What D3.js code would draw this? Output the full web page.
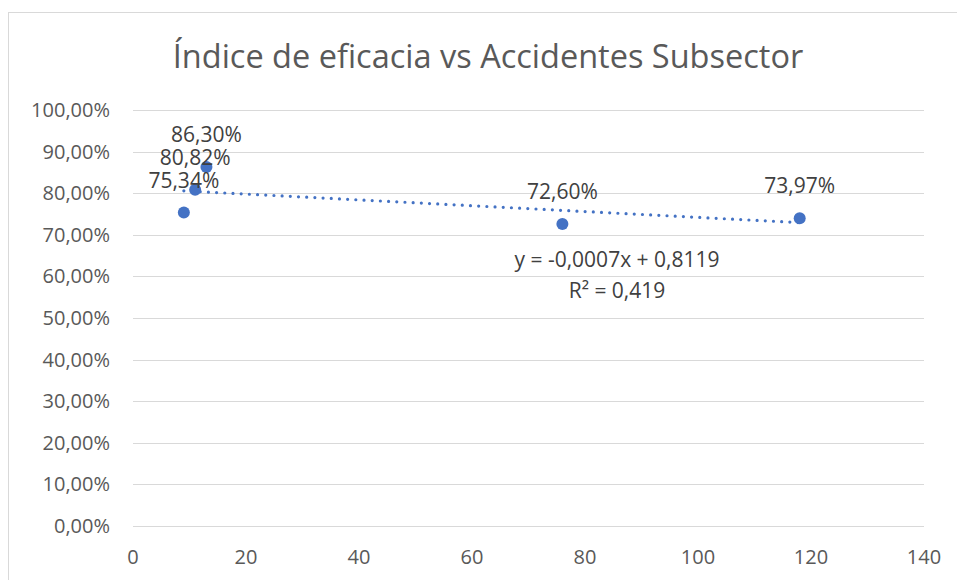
<!DOCTYPE html>
<meta charset="utf-8">
<head>
  <script src="https://d3js.org/d3.v7.min.js"></script>
</head>
<style>
body { margin: 0; background: #fff; }
text { font-family: "Open Sans", "Noto Sans", sans-serif; fill: #595959; }
.grid line { stroke: #d9d9d9; stroke-width: 1; }
.title { font-size: 32.5px; }
.tick-label { font-size: 20px; }
.data-label { font-size: 21px; fill: #404040; }
.trend-label { font-size: 21px; fill: #404040; }
</style>
<body>
<svg width="957" height="580" id="container"></svg>
<script>

// data
var accidents = [9, 11, 13, 76, 118];
var efficacy = [0.7534, 0.8082, 0.8630, 0.7260, 0.7397];
var valueLabels = ['75,34%', '80,82%', '86,30%', '72,60%', '73,97%'];
var yTicks = [0, 0.1, 0.2, 0.3, 0.4, 0.5, 0.6, 0.7, 0.8, 0.9, 1.0];
var xTicks = [0, 20, 40, 60, 80, 100, 120, 140];
var trendCoef = [-0.0007, 0.8119];   // slope, intercept as in the label
var trendText = ['y = -0,0007x + 0,8119', 'R² = 0,419'];

var svg = d3.select('#container');

var plot = {left: 133, right: 924, top: 110, bottom: 526};

var xScale = d3.scaleLinear().domain([0, 140]).range([plot.left, plot.right]),
    yScale = d3.scaleLinear().domain([0, 1]).range([plot.bottom, plot.top]);

var fmtPct = function(d) { return d3.format('.2f')(d * 100).replace('.', ',') + '%'; };

// chart frame
svg.append('rect')
   .attr('x', 8.5).attr('y', 12.5)
   .attr('width', 1000).attr('height', 1000)
   .attr('fill', 'none')
   .attr('stroke', '#d9d9d9');

svg.append('text')
   .attr('class', 'title')
   .attr('x', 488)
   .attr('y', 68)
   .attr('text-anchor', 'middle')
   .text('Índice de eficacia vs Accidentes Subsector');

// horizontal gridlines
svg.append('g')
   .attr('class', 'grid')
   .selectAll('line')
   .data(yTicks)
   .enter()
   .append('line')
   .attr('x1', plot.left)
   .attr('x2', plot.right)
   .attr('y1', function(d) { return Math.round(yScale(d)) + 0.5; })
   .attr('y2', function(d) { return Math.round(yScale(d)) + 0.5; });

// y tick labels
svg.append('g')
   .selectAll('text')
   .data(yTicks)
   .enter()
   .append('text')
   .attr('class', 'tick-label')
   .attr('x', 110)
   .attr('y', function(d) { return yScale(d); })
   .attr('dy', '0.35em')
   .attr('text-anchor', 'end')
   .text(fmtPct);

// x tick labels
svg.append('g')
   .selectAll('text')
   .data(xTicks)
   .enter()
   .append('text')
   .attr('class', 'tick-label')
   .attr('x', function(d) { return xScale(d); })
   .attr('y', 564)
   .attr('text-anchor', 'middle')
   .text(function(d) { return d; });

// trendline over the data range
var xExt = d3.extent(accidents);
var trend = xExt.map(function(x) { return [x, trendCoef[0] * x + trendCoef[1]]; });
svg.append('path')
   .datum(trend)
   .attr('d', d3.line()
     .x(function(d) { return xScale(d[0]); })
     .y(function(d) { return yScale(d[1]); }))
   .attr('fill', 'none')
   .attr('stroke', '#4472c4')
   .attr('stroke-width', 3.2)
   .attr('stroke-linecap', 'round')
   .attr('stroke-dasharray', '0,8.2');

var points = accidents.map(function(x, i) { return {x: x, y: efficacy[i], label: valueLabels[i]}; });

svg.append('g')
   .selectAll('circle')
   .data(points)
   .enter()
   .append('circle')
   .attr('cx', function(d) { return xScale(d.x); })
   .attr('cy', function(d) { return yScale(d.y); })
   .attr('r', 6)
   .attr('fill', '#4472c4');

svg.append('g')
   .selectAll('text')
   .data(points)
   .enter()
   .append('text')
   .attr('class', 'data-label')
   .attr('x', function(d) { return xScale(d.x); })
   .attr('y', function(d) { return yScale(d.y) - 25; })
   .attr('text-anchor', 'middle')
   .text(function(d) { return d.label; });

// trendline equation
svg.append('g')
   .selectAll('text')
   .data(trendText)
   .enter()
   .append('text')
   .attr('class', 'trend-label')
   .attr('x', 617)
   .attr('y', function(d, i) { return 267 + i * 31; })
   .attr('text-anchor', 'middle')
   .text(function(d) { return d; });

</script>
</body>
